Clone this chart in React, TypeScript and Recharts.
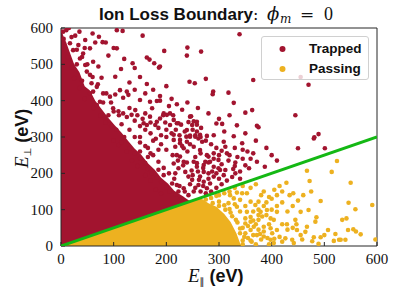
import React from 'react';
import { ComposedChart, Scatter, Area, Line, XAxis, YAxis, ReferenceLine, Legend } from 'recharts';

const axisTicks = [0, 100, 200, 300, 400, 500, 600];
const legendLabels = ['Trapped', 'Passing'];
const boundaryX = [0, 600];
const boundaryY = [0, 300];

// dense core of the trapped cloud (between loss line and ragged upper edge)
const trappedCoreX = [0, 5, 10, 18, 25, 35, 45, 55, 65, 78, 90, 102, 115, 128, 140, 152, 165, 178, 190, 203, 215, 230, 245];
const trappedCoreLow = [0, 2.5, 5, 9, 12.5, 17.5, 22.5, 27.5, 32.5, 39, 45, 51, 57.5, 64, 70, 76, 82.5, 89, 95, 101.5, 107.5, 115, 122.5];
const trappedCoreHigh = [600, 575, 560, 528, 500, 478, 440, 428, 400, 375, 352, 332, 312, 288, 268, 252, 228, 210, 188, 172, 152, 138, 123];

// dense core of the passing cloud (below the loss line)
const passingCoreX = [0, 265, 280, 295, 310, 322, 333, 342];
const passingCoreHigh = [0, 132, 118, 108, 88, 66, 35, 0];

const trappedPoints = [
  [10, 594], [106, 594], [117, 592], [339, 583], [27, 579], [72, 576], [79, 561], [155, 579], [46, 567],
  [106, 544], [196, 537], [240, 546], [239, 524], [266, 535], [90, 524], [163, 519], [168, 513], [136, 503],
  [177, 503], [186, 491], [114, 487], [103, 466], [77, 463], [244, 452], [254, 448], [275, 460], [365, 457],
  [163, 446], [470, 444], [289, 425], [288, 418], [318, 422], [328, 394], [350, 367], [363, 374], [445, 360],
  [188, 494], [188, 413], [188, 400], [182, 399], [169, 397], [173, 379], [150, 402], [125, 425], [128, 416],
  [118, 408], [112, 429], [103, 417], [93, 411], [86, 420], [195, 365], [201, 361], [207, 365], [214, 347],
  [223, 338], [207, 333], [188, 351], [182, 342], [179, 333], [160, 365], [169, 356], [157, 338], [163, 333],
  [141, 374], [134, 361], [118, 365], [99, 379], [109, 371], [74, 397], [68, 388], [61, 425], [58, 448],
  [68, 438], [49, 480], [55, 471], [46, 498], [36, 516], [42, 530], [55, 544], [33, 553], [23, 539], [17, 558],
  [61, 507], [71, 494], [194, 360], [213, 360], [247, 357], [198, 340], [220, 338], [228, 334], [242, 341],
  [252, 343], [258, 334], [266, 325], [295, 337], [306, 336], [334, 332], [372, 331], [375, 327], [214, 306],
  [245, 304], [255, 305], [264, 306], [328, 302], [489, 308], [481, 299], [344, 283], [309, 287], [277, 303],
  [354, 260], [365, 255], [327, 212], [357, 214], [315, 255], [299, 214], [287, 205], [271, 223], [258, 228],
  [239, 230], [274, 232], [277, 250], [264, 264], [252, 273], [245, 280], [226, 292], [238, 301], [249, 333],
  [258, 315], [245, 356], [258, 342], [239, 319], [480, 296], [450, 269], [501, 269], [312, 273], [372, 232],
  [387, 218], [331, 230], [312, 209], [331, 200], [290, 255], [280, 246], [299, 237], [283, 232], [290, 218],
  [302, 209], [309, 195], [290, 191], [280, 200], [271, 204], [258, 218], [252, 232], [264, 191], [271, 177],
  [261, 168], [283, 172], [277, 159], [249, 182], [242, 191], [236, 204], [233, 232], [226, 246], [220, 250],
  [233, 269], [239, 287], [245, 301], [255, 301], [261, 296], [268, 287], [217, 273], [226, 283], [214, 292],
  [214, 227], [223, 214], [217, 200], [233, 159], [223, 150], [242, 140], [252, 150], [211, 172], [220, 168],
  [226, 127], [100, 290], [110, 278], [130, 268], [140, 255], [150, 240], [160, 228], [165, 212],
  [172, 200], [182, 188], [190, 176], [200, 162], [206, 150], [218, 142], [230, 130], [120, 300], [105, 320],
  [85, 340], [95, 330], [75, 360], [62, 380], [45, 405], [35, 435], [25, 462], [20, 492], [12, 520], [5, 570],
  [4, 590], [20, 575], [30, 500], [40, 455], [55, 420], [80, 395], [90, 360], [115, 335], [130, 320],
  [140, 300], [150, 285], [165, 270], [175, 250], [185, 232], [195, 215], [205, 200], [215, 185], [225, 165],
  [235, 150], [190, 145], [180, 155], [170, 180], [160, 195], [145, 220], [135, 235],
  [125, 260], [115, 285], [150, 260], [165, 245], [185, 210], [195, 195], [455, 465],
  [130, 380], [145, 360], [155, 350], [170, 340], [185, 325], [200, 320], [210, 310], [225, 305], [235, 315],
  [250, 320], [265, 300], [275, 290], [285, 280], [295, 270], [305, 262], [320, 250], [335, 245], [345, 240],
  [300, 250], [290, 240], [280, 230], [270, 215], [260, 205], [250, 195], [245, 170], [255, 160], [265, 150],
  [275, 145], [285, 150], [295, 160], [305, 170], [315, 180], [325, 190], [340, 205], [350, 222], [360, 240],
  [270, 165], [280, 185], [295, 200], [305, 225], [318, 235], [330, 220], [340, 185], [300, 185], [262, 182],
  [248, 208], [232, 222], [222, 235], [212, 250], [200, 265], [190, 280], [180, 295], [170, 310], [160, 320],
  [150, 330], [140, 345], [125, 355], [110, 360], [100, 370], [95, 395], [80, 420], [70, 445], [60, 465],
  [50, 500], [40, 520], [30, 540], [15, 600], [35, 590], [60, 585], [85, 560], [65, 560], [45, 545],
  [100, 545], [120, 515], [140, 490], [150, 465], [130, 450], [140, 430], [160, 420], [175, 430], [200, 440],
  [210, 405], [220, 390], [230, 375], [205, 385], [240, 395], [260, 380], [280, 365], [300, 350], [320, 360],
  [310, 315], [290, 305], [350, 310], [370, 290], [390, 270], [400, 250], [410, 235], [330, 270], [345, 265],
  [255, 245], [265, 255], [240, 260], [230, 275], [218, 320], [200, 300], [190, 305], [175, 290], [185, 265],
  [170, 255], [160, 275], [150, 300],
];

const passingPoints = [
  [524, 234], [467, 207], [514, 204], [472, 179], [550, 174], [428, 174], [434, 140], [441, 145], [493, 124],
  [546, 119], [591, 113], [455, 94], [470, 99], [559, 101], [485, 79], [483, 67], [534, 72], [542, 76],
  [420, 60], [429, 60], [445, 72], [447, 60], [448, 44], [464, 39], [467, 53], [507, 44], [521, 33], [545, 44],
  [555, 46], [569, 32], [597, 18], [426, 21], [439, 17], [458, 18], [480, 24], [493, 24], [531, 17], [540, 17],
  [410, 94], [404, 72], [398, 76], [379, 94], [391, 99], [382, 81], [360, 122], [369, 113], [375, 122],
  [353, 94], [350, 76], [360, 67], [366, 53], [375, 72], [385, 53], [398, 49], [401, 35], [410, 44], [360, 44],
  [372, 30], [385, 26], [398, 17], [334, 147], [344, 145], [353, 145], [340, 127], [334, 108], [321, 140],
  [328, 131], [318, 118], [442, 8], [477, 13], [489, 6], [518, 14], [528, 17], [404, 8], [378, 33], [392, 22],
  [420, 12], [455, 30], [500, 30], [560, 40], [275, 128], [285, 132], [295, 138], [300, 122], [310, 112],
  [320, 102], [325, 82], [335, 65], [345, 50], [350, 35], [355, 22], [362, 12], [370, 5], [380, 18],
  [340, 95], [330, 115], [300, 140], [310, 145], [350, 110], [365, 95], [375, 85], [360, 80], [340, 35],
  [385, 40], [395, 60], [350, 62], [320, 150], [330, 160], [345, 165], [360, 160], [370, 170], [380, 140],
  [390, 120], [400, 130], [410, 140], [420, 150], [390, 85], [400, 100], [410, 110], [420, 120], [430, 95],
  [440, 110], [450, 125], [460, 140], [475, 150], [430, 45], [440, 50], [415, 25], [395, 5], [405, 20],
  [365, 30], [375, 45], [370, 60], [360, 15], [345, 15], [355, 55], [365, 70], [375, 100], [385, 110],
  [395, 135], [405, 155], [415, 165], [385, 150], [345, 5], [348, 25], [340, 48], [332, 72], [322, 92],
  [312, 100], [300, 110], [288, 118],
];

const TRAPPED = '#A2142F';
const PASSING = '#EDB120';
const GREEN = '#14B814';
const AXIS = '#262626';

const trappedData = trappedPoints.map(([x, y]) => ({ x, y }));
const passingData = passingPoints.map(([x, y]) => ({ x, y }));
const trappedCore = trappedCoreX.map((x, i) => ({ x, band: [trappedCoreLow[i], trappedCoreHigh[i]] }));
const passingCore = passingCoreX.map((x, i) => ({ x, band: [0, passingCoreHigh[i]] }));
const boundaryData = boundaryX.map((x, i) => ({ x, y: boundaryY[i] }));

const dot = (color: string) => (p: any) => <circle cx={p.cx} cy={p.cy} r={2.3} fill={color} />;

const legendColors = [TRAPPED, PASSING];

const SerifTick = (props: any) => {
  const { x, y, payload, orientation } = props;
  const isX = orientation === 'bottom';
  return (
    <text
      x={x}
      y={isX ? y + 10 : y + 5}
      textAnchor={isX ? 'middle' : 'end'}
      fontFamily='"Liberation Serif", "DejaVu Serif", serif'
      fontSize={15}
      fill="#111"
    >
      {payload.value}
    </text>
  );
};

const renderLegend = () => (
  <div
    style={{
      width: 106,
      height: 42,
      background: 'rgba(255,255,255,0.8)',
      border: '1px solid #d0d0d0',
      borderRadius: 3,
      position: 'relative',
      boxSizing: 'content-box',
    }}
  >
    {legendLabels.map((l, i) => (
      <div key={l} style={{ position: 'absolute', left: 0, top: 4 + i * 20, height: 16, width: 106 }}>
        <svg width={30} height={16} style={{ position: 'absolute', left: 14, top: 0 }}>
          <circle cx={6.5} cy={8} r={3} fill={legendColors[i]} />
        </svg>
        <span
          style={{
            position: 'absolute',
            left: 47,
            top: -1,
            fontFamily: '"Liberation Sans", Arial, sans-serif',
            fontWeight: 'bold',
            fontSize: 13.5,
            color: '#111',
            lineHeight: '18px',
            whiteSpace: 'nowrap',
          }}
        >
          {l}
        </span>
      </div>
    ))}
  </div>
);

export default function App() {
  return (
    <div style={{ position: 'absolute', left: 0, top: 0, width: 399, height: 299, background: '#fff' }}>
      <ComposedChart width={399} height={299} margin={{ top: 28, right: 22, bottom: 0, left: 0 }}>
        <XAxis
          type="number"
          dataKey="x"
          domain={[0, 600]}
          ticks={axisTicks}
          allowDataOverflow
          height={53}
          stroke={AXIS}
          tickSize={-4}
          tickMargin={12}
          tick={<SerifTick />}
        />
        <YAxis
          type="number"
          dataKey="y"
          domain={[0, 600]}
          ticks={axisTicks}
          allowDataOverflow
          width={61}
          stroke={AXIS}
          tickSize={-4}
          tickMargin={12}
          tick={<SerifTick />}
        />
        <Area
          data={trappedCore}
          dataKey="band"
          type="linear"
          fill={TRAPPED}
          fillOpacity={1}
          stroke="none"
          isAnimationActive={false}
          legendType="none"
        />
        <Area
          data={passingCore}
          dataKey="band"
          type="linear"
          fill={PASSING}
          fillOpacity={1}
          stroke="none"
          isAnimationActive={false}
          legendType="none"
        />
        <Scatter data={trappedData} dataKey="y" shape={dot(TRAPPED)} isAnimationActive={false} />
        <Scatter data={passingData} dataKey="y" shape={dot(PASSING)} isAnimationActive={false} />
        <ReferenceLine y={600} stroke={AXIS} />
        <ReferenceLine x={600} stroke={AXIS} />
        <Line
          data={boundaryData}
          dataKey="y"
          type="linear"
          stroke={GREEN}
          strokeWidth={3}
          dot={false}
          activeDot={false}
          isAnimationActive={false}
          zIndex={1000}
        />
        <Legend
          layout="horizontal"
          verticalAlign="middle"
          align="center"
          content={renderLegend}
          wrapperStyle={{ position: 'absolute', left: 261, top: 36, width: 108, height: 44 }}
        />
      </ComposedChart>
      <svg
        width={399}
        height={299}
        style={{ position: 'absolute', left: 0, top: 0, pointerEvents: 'none' }}
      >
        <text x={99} y={20} fontFamily='"Liberation Sans", Arial, sans-serif' fontWeight="bold" fontSize={17} fill="#111">
          Ion Loss Boundary
        </text>
        <text x={253} y={20} fontFamily='"DejaVu Serif", serif' fontSize={16} fill="#111">:</text>
        <text x={267} y={20} fontFamily='"DejaVu Serif", serif' fontStyle="italic" fontSize={18} fill="#111">ϕ</text>
        <text x={280} y={23} fontFamily='"DejaVu Serif", serif' fontStyle="italic" fontSize={12} fill="#111">m</text>
        <text x={300} y={20} fontFamily='"DejaVu Serif", serif' fontSize={17} fill="#111">=</text>
        <text x={324} y={20} fontFamily='"Liberation Serif", serif' fontSize={18} fill="#111">0</text>

        <text x={188} y={282} fill="#111">
          <tspan fontFamily='"Liberation Serif", serif' fontStyle="italic" fontSize={19}>E</tspan>
          <tspan fontFamily='"DejaVu Sans", sans-serif' fontSize={10} dy={3}>∥</tspan>
          <tspan fontFamily='"Liberation Sans", Arial, sans-serif' fontWeight="bold" fontSize={18} dy={-3} dx={5}>(eV)</tspan>
        </text>

        <text x={0} y={0} fill="#111" transform="translate(28,168) rotate(-90)">
          <tspan fontFamily='"Liberation Serif", serif' fontStyle="italic" fontSize={19}>E</tspan>
          <tspan fontFamily='"DejaVu Sans", sans-serif' fontSize={10} dy={3}>⊥</tspan>
          <tspan fontFamily='"Liberation Sans", Arial, sans-serif' fontWeight="bold" fontSize={18} dy={-3} dx={5}>(eV)</tspan>
        </text>
      </svg>
    </div>
  );
}
